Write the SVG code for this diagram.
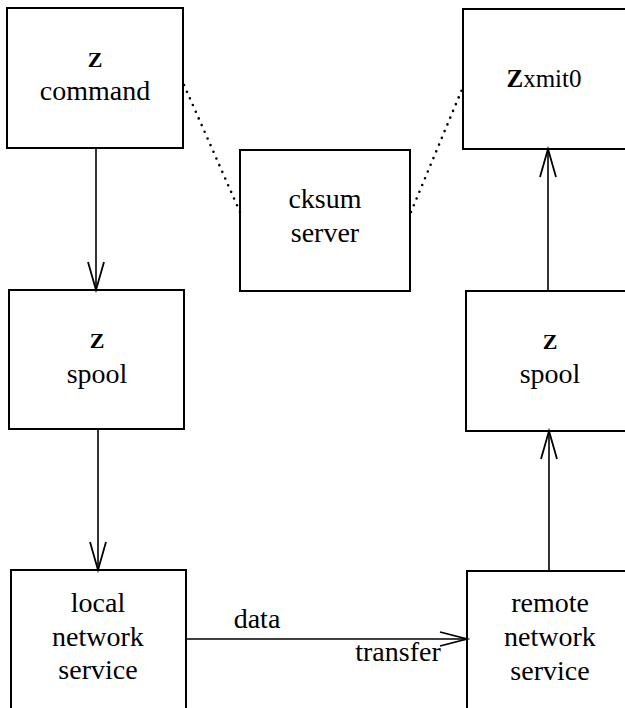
<svg xmlns="http://www.w3.org/2000/svg" width="625" height="708" viewBox="0 0 625 708" font-family="Liberation Serif">
<style>
.box{fill:none;stroke:#000;stroke-width:2}
.c{fill:none;stroke:#000;stroke-width:1.6}
.dot{fill:none;stroke:#000;stroke-width:2.6;stroke-linecap:round;stroke-dasharray:0 7.3}
.ah{fill:none;stroke:#000;stroke-width:1.8}
</style>
<rect width="625" height="708" fill="#fff"/>
<g id="connectors">
  <line class="dot" x1="184" y1="85" x2="240" y2="212"/>
  <line class="dot" x1="411" y1="212" x2="463" y2="87"/>
  <line class="c" x1="96" y1="148" x2="96" y2="290"/>
  <polyline class="ah" points="88,262 96,290 104,262"/>
  <line class="c" x1="98" y1="429" x2="98" y2="570"/>
  <polyline class="ah" points="90,542 98,570 106,542"/>
  <line class="c" x1="186" y1="639" x2="467" y2="639"/>
  <polyline class="ah" points="440,632 467,639 440,646"/>
  <line class="c" x1="549" y1="571" x2="549" y2="431"/>
  <polyline class="ah" points="541,459 549,431 557,459"/>
  <line class="c" x1="548" y1="291" x2="548" y2="149"/>
  <polyline class="ah" points="540,177 548,149 556,177"/>
  <text x="257" y="628" style="font-family:'Liberation Serif',serif;font-size:28px" text-anchor="middle">data</text>
  <text x="398" y="661" style="font-family:'Liberation Serif',serif;font-size:28px" text-anchor="middle">transfer</text>
</g>
<g id="command">
  <rect class="box" x="7" y="8" width="176" height="140"/>
  <text x="95" y="67" style="font-family:'Liberation Serif',serif;font-size:22px;font-weight:bold" text-anchor="middle">Z</text>
  <text x="95" y="100" style="font-family:'Liberation Serif',serif;font-size:28px" text-anchor="middle">command</text>
</g>
<g id="zxmit0">
  <rect class="box" x="463" y="9" width="175" height="140"/>
  <text x="544" y="87" style="font-family:'Liberation Serif',serif;font-size:25px" text-anchor="middle"><tspan style="font-weight:bold">Z</tspan>xmit0</text>
</g>
<g id="cksum">
  <rect class="box" x="240" y="150" width="170" height="141"/>
  <text x="325" y="208" style="font-family:'Liberation Serif',serif;font-size:28px" text-anchor="middle">cksum</text>
  <text x="325" y="242" style="font-family:'Liberation Serif',serif;font-size:28px" text-anchor="middle">server</text>
</g>
<g id="spool-local">
  <rect class="box" x="9" y="290" width="175" height="139"/>
  <text x="97" y="348" style="font-family:'Liberation Serif',serif;font-size:22px;font-weight:bold" text-anchor="middle">Z</text>
  <text x="97" y="383" style="font-family:'Liberation Serif',serif;font-size:28px" text-anchor="middle">spool</text>
</g>
<g id="spool-remote">
  <rect class="box" x="466" y="291" width="175" height="140"/>
  <text x="550" y="349" style="font-family:'Liberation Serif',serif;font-size:22px;font-weight:bold" text-anchor="middle">Z</text>
  <text x="550" y="383" style="font-family:'Liberation Serif',serif;font-size:28px" text-anchor="middle">spool</text>
</g>
<g id="local-network">
  <rect class="box" x="11" y="570" width="175" height="150"/>
  <text x="98" y="612" style="font-family:'Liberation Serif',serif;font-size:28px" text-anchor="middle">local</text>
  <text x="98" y="646" style="font-family:'Liberation Serif',serif;font-size:28px" text-anchor="middle">network</text>
  <text x="98" y="679" style="font-family:'Liberation Serif',serif;font-size:28px" text-anchor="middle">service</text>
</g>
<g id="remote-network">
  <rect class="box" x="467" y="571" width="175" height="150"/>
  <text x="550" y="612" style="font-family:'Liberation Serif',serif;font-size:28px" text-anchor="middle">remote</text>
  <text x="550" y="646" style="font-family:'Liberation Serif',serif;font-size:28px" text-anchor="middle">network</text>
  <text x="550" y="680" style="font-family:'Liberation Serif',serif;font-size:28px" text-anchor="middle">service</text>
</g>
</svg>
